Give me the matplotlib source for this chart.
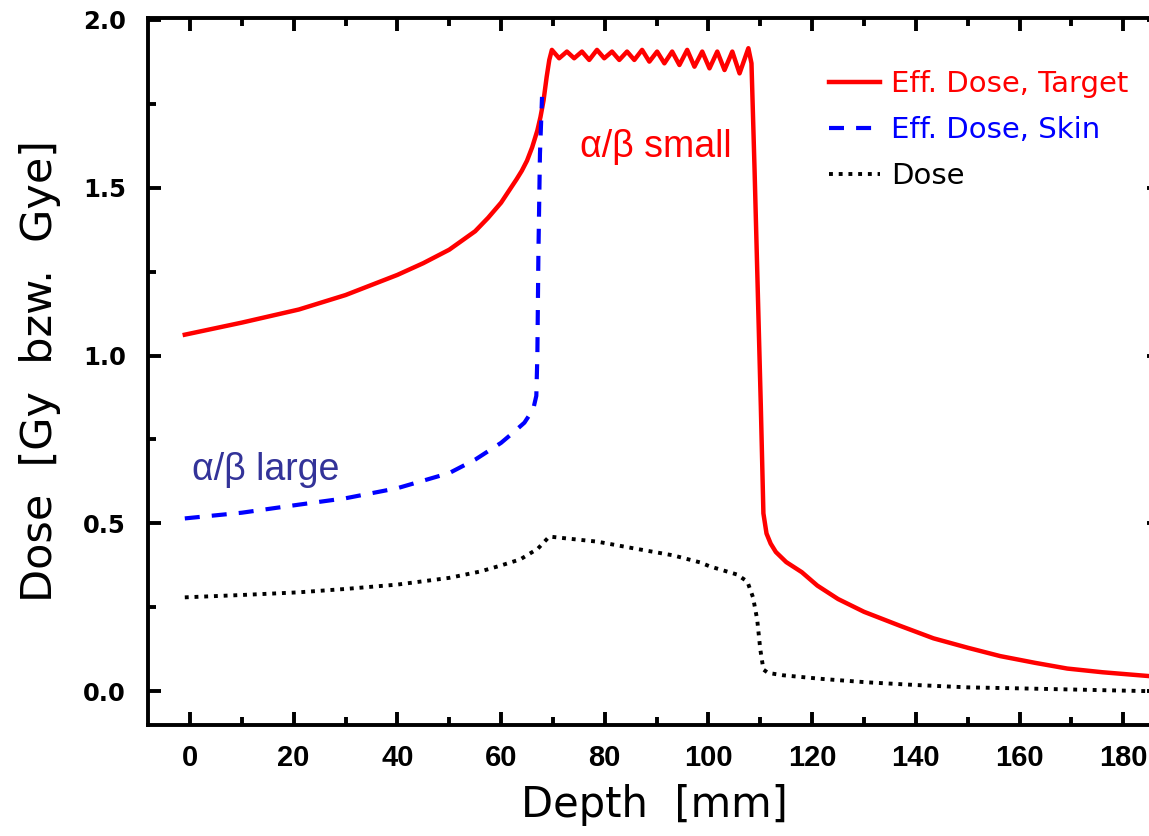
import matplotlib.pyplot as plt
from matplotlib.ticker import MultipleLocator, FormatStrFormatter

# Eff. Dose, Target (solid red)
depth_target = [-1, 10, 21, 30, 40, 45, 50, 55, 57.5, 60, 61.5, 63, 64, 65, 66, 67, 67.6,
                68.2, 68.8, 69.3,
                69.8, 71.2, 72.7, 74.1, 75.6, 77.0, 78.5, 79.9, 81.4, 82.8, 84.3, 85.7,
                87.2, 88.6, 90.1, 91.5, 93.0, 94.4, 95.9, 97.3, 98.8, 100.2, 101.7, 103.1,
                104.6, 106.0, 107.7, 108.3, 108.9, 109.5, 110.1, 110.6, 111.2, 112,
                113, 115, 118, 121, 125, 130, 137, 143.4, 150, 156.3, 163, 169.2, 176, 187]
dose_target = [1.062, 1.098, 1.137, 1.18, 1.24, 1.275, 1.315, 1.37, 1.41, 1.455, 1.49,
               1.525, 1.55, 1.58, 1.62, 1.67, 1.71, 1.76, 1.83, 1.88,
               1.91, 1.885, 1.905, 1.885, 1.905, 1.88, 1.91, 1.885, 1.905, 1.88, 1.905, 1.88,
               1.91, 1.875, 1.905, 1.87, 1.905, 1.865, 1.91, 1.86, 1.905, 1.855, 1.905, 1.85,
               1.905, 1.84, 1.915, 1.87, 1.55, 1.2, 0.85, 0.53, 0.47, 0.44,
               0.415, 0.385, 0.355, 0.315, 0.275, 0.237, 0.195, 0.158, 0.13, 0.105, 0.085,
               0.068, 0.057, 0.043]

# Eff. Dose, Skin (dashed blue)
depth_skin = [-1, 10, 21, 30, 40, 50, 55, 60, 62.3, 64.5, 66.2, 66.8, 67.0, 67.2, 67.5, 67.9]
dose_skin = [0.515, 0.532, 0.556, 0.575, 0.605, 0.65, 0.69, 0.74, 0.77, 0.80, 0.84, 0.88,
             1.0, 1.3, 1.6, 1.77]

# Dose (dotted black)
depth_dose = [-1, 10, 21, 30, 40, 50, 56, 60, 63.7, 67.1, 69.3, 72.9, 78.5, 85.9, 93.2,
              98.4, 100.3, 105.5, 107.5, 108.6, 109.4, 110.0, 110.6, 111.5, 114.4, 122,
              130.6, 140, 150, 160, 169, 178, 187]
dose_dose = [0.28, 0.287, 0.295, 0.305, 0.318, 0.338, 0.357, 0.375, 0.393, 0.425, 0.461,
             0.455, 0.446, 0.425, 0.405, 0.384, 0.372, 0.348, 0.327, 0.28, 0.214, 0.125,
             0.065, 0.055, 0.048, 0.037, 0.027, 0.019, 0.012, 0.009, 0.006, 0.003, 0.0]

fig = plt.figure(figsize=(11.49, 8.36), dpi=100)
ax = fig.add_axes([0.1288, 0.1328, 0.8808, 0.8457])

ax.plot(depth_target, dose_target, color='red', lw=3.2, label='Eff. Dose, Target')
ax.plot(depth_skin, dose_skin, color='blue', lw=3, dashes=(3.6, 2.9), label='Eff. Dose, Skin')
ax.plot(depth_dose, dose_dose, color='black', lw=2.8, dashes=(1.0, 1.5), label='Dose')

ax.set_xlim(-8.1, 187.1)
ax.set_ylim(-0.1, 2.005)

ax.xaxis.set_major_locator(MultipleLocator(20))
ax.xaxis.set_minor_locator(MultipleLocator(10))
ax.yaxis.set_major_locator(MultipleLocator(0.5))
ax.yaxis.set_minor_locator(MultipleLocator(0.25))
ax.yaxis.set_major_formatter(FormatStrFormatter('%.1f'))

for s in ax.spines.values():
    s.set_linewidth(2.8)
ax.tick_params(which='both', direction='in', top=True, right=True, width=2.8)
ax.tick_params(which='major', length=9.5)
ax.tick_params(which='minor', length=6)
ax.tick_params(axis='y', pad=16, labelsize=17.5)
ax.tick_params(axis='x', pad=14, labelsize=21)

for lab in ax.get_yticklabels():
    lab.set_fontweight('bold')
for lab in ax.get_xticklabels():
    lab.set_fontweight('bold')
    lab.set_family('Liberation Sans')

ax.set_xlabel('Depth  [mm]', fontsize=30, labelpad=8)
ax.set_ylabel('Dose  [Gy  bzw.  Gye]', fontsize=31, labelpad=16)

ax.text(75.2, 1.59, 'α/β small', color='red', fontsize=27, family='Liberation Sans')
ax.text(0.4, 0.63, 'α/β large', color='#333399', fontsize=27, family='Liberation Sans')

leg = ax.legend(loc='upper right', bbox_to_anchor=(1128 / 1149, 1 - 70 / 836),
                bbox_transform=fig.transFigure, frameon=False, fontsize=21,
                handlelength=1.75, handletextpad=0.35, labelspacing=0.62,
                borderaxespad=0, borderpad=0)
for txt, ln in zip(leg.get_texts(), leg.get_lines()):
    txt.set_color(ln.get_color())

fig.savefig('out.png', dpi=100)
